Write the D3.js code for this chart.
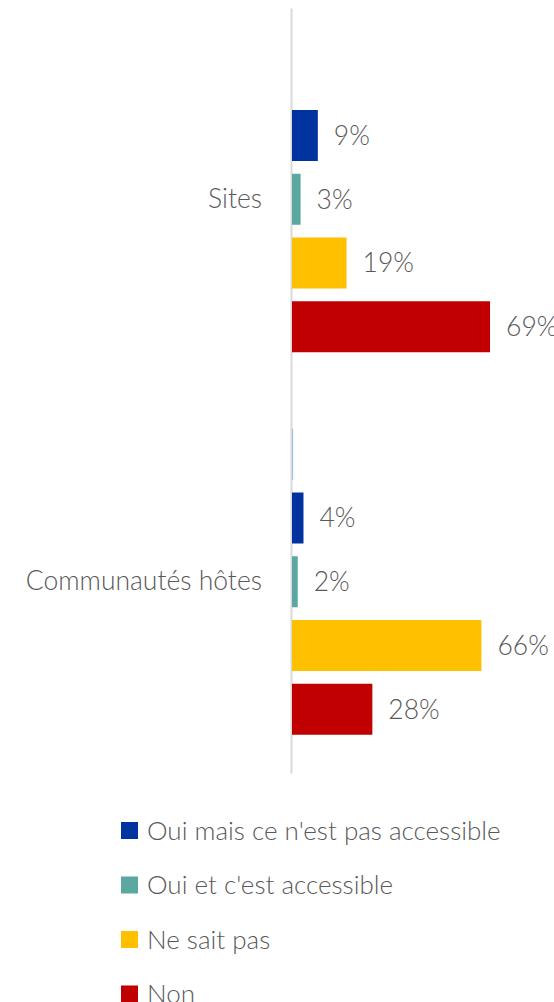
<!DOCTYPE html>
<html lang="fr">
<head>
    <meta charset="UTF-8">
    <title>Accessibilité - Sites / Communautés hôtes</title>
    <script src="https://cdn.jsdelivr.net/npm/d3@7"></script>
    <style>
        html, body {
            margin: 0;
            padding: 0;
            background: #fff;
        }

        svg text {
            font-family: Lato, "Open Sans", sans-serif;
            font-weight: 300;
            fill: #595959;
        }
    </style>
</head>
<body>
<div id="chart"></div>
<script>
    // categories (top to bottom) and series (top to bottom inside a group)
    var categories = ['Sites', 'Communautés hôtes'];
    var series = ['Autre', 'Oui mais ce n\'est pas accessible', 'Oui et c\'est accessible', 'Ne sait pas', 'Non'];
    var colors = ['#9DC3E6', '#0033A0', '#5BA8A0', '#FFC000', '#C00000'];
    // values in %, one array per series, in category order
    var autre = [0, 0.4];
    var ouiMais = [9, 4];
    var ouiEt = [3, 2];
    var neSaitPas = [19, 66];
    var non = [69, 28];
    var legendItems = series.slice(1);

    var values = [autre, ouiMais, ouiEt, neSaitPas, non];

    var W = 554, H = 1002;
    var svg = d3.select('#chart').append('svg')
        .attr('width', W)
        .attr('height', H);

    var x = d3.scaleLinear().domain([0, 100]).range([292, 292 + 287]);
    var y0 = d3.scaleBand().domain(categories).range([8, 773])
        .paddingInner(0.2).paddingOuter(0.1);
    var y1 = d3.scaleBand().domain(series).range([0, y0.bandwidth()])
        .paddingInner(0.2);
    var color = d3.scaleOrdinal().domain(series).range(colors);

    var rows = [];
    categories.forEach(function (c, ci) {
        series.forEach(function (s, si) {
            rows.push({cat: c, ser: s, val: values[si][ci]});
        });
    });

    // vertical axis
    var yAxis = d3.axisLeft(y0).tickSize(0).tickPadding(29);
    var ax = svg.append('g')
        .attr('transform', 'translate(' + (x(0) - 1) + ',0)')
        .call(yAxis);
    ax.select('.domain').attr('stroke', '#D9D9D9').attr('stroke-width', 2);
    ax.selectAll('text')
        .style('font-size', '26.5px')
        .attr('font-family', null)
        .attr('fill', '#595959');

    // bars
    svg.append('g').selectAll('rect')
        .data(rows)
        .enter()
        .append('rect')
        .attr('x', x(0))
        .attr('y', d => y0(d.cat) + y1(d.ser))
        .attr('width', d => x(d.val) - x(0))
        .attr('height', y1.bandwidth())
        .attr('fill', d => color(d.ser));

    // data labels (skip the unlabeled series)
    svg.append('g').selectAll('text')
        .data(rows.filter(d => d.ser !== 'Autre'))
        .enter()
        .append('text')
        .attr('x', d => x(d.val) + 16)
        .attr('y', d => y0(d.cat) + y1(d.ser) + y1.bandwidth() / 2)
        .attr('dy', '0.35em')
        .style('font-size', '26.5px')
        .text(d => d.val + '%');

    // legend
    var leg = svg.append('g').selectAll('g')
        .data(legendItems)
        .enter()
        .append('g')
        .attr('transform', (d, i) => 'translate(121,' + (822 + i * 54.5) + ')');
    leg.append('rect')
        .attr('width', 17)
        .attr('height', 17)
        .attr('fill', d => color(d));
    leg.append('text')
        .attr('x', 26)
        .attr('y', 8.5)
        .attr('dy', '0.35em')
        .style('font-size', '26px')
        .text(d => d);
</script>
</body>
</html>
